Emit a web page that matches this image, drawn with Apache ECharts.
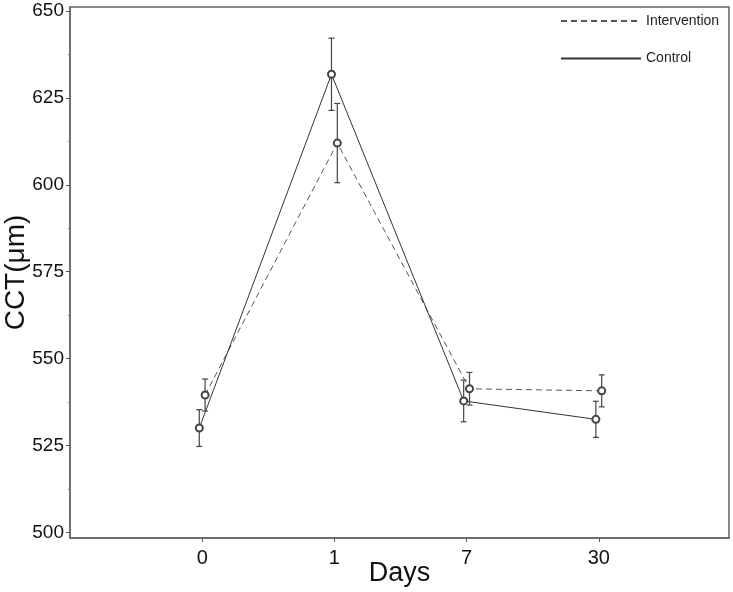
<!DOCTYPE html>
<html>
<head>
<meta charset="utf-8">
<script src="https://cdn.jsdelivr.net/npm/echarts@6/dist/echarts.min.js"></script>
<style>
  html, body { margin: 0; padding: 0; background: #fff; }
  #chart { width: 733px; height: 592px; }
</style>
</head>
<body>
<div id="chart"></div>
<script>
// data
const dayLabels = ['0', '1', '7', '30'];
const controlMean = [530.0, 631.8, 537.8, 532.5];
const controlErr = [5.3, 10.4, 6.0, 5.2];
const interventionMean = [539.5, 612.0, 541.3, 540.7];
const interventionErr = [4.6, 11.4, 4.7, 4.6];
const yTicks = [500, 525, 550, 575, 600, 625, 650];
const yMinorTicks = [512.5, 537.5, 562.5, 587.5, 612.5, 637.5];

// small horizontal dodge so the two groups don't overlap
const controlShift = -0.022;
const interventionShift = 0.022;

const FONT = 'Liberation Sans, Arial, sans-serif';

function points(means, shift) {
  return means.map((v, i) => [i + shift, v]);
}
function bars(means, errs, shift) {
  return means.map((v, i) => [i + shift, v - errs[i], v + errs[i]]);
}

function errorBarSeries(data, color) {
  return {
    type: 'custom',
    data: data,
    silent: true,
    z: 2,
    renderItem: function (params, api) {
      const lo = api.coord([api.value(0), api.value(1)]);
      const hi = api.coord([api.value(0), api.value(2)]);
      const w = 3;
      const style = { stroke: color, lineWidth: 1.2 };
      return {
        type: 'group',
        children: [
          { type: 'line', shape: { x1: lo[0], y1: lo[1], x2: hi[0], y2: hi[1] }, style: style },
          { type: 'line', shape: { x1: lo[0] - w, y1: lo[1], x2: lo[0] + w, y2: lo[1] }, style: style },
          { type: 'line', shape: { x1: hi[0] - w, y1: hi[1], x2: hi[0] + w, y2: hi[1] }, style: style }
        ]
      };
    }
  };
}

const chart = echarts.init(document.getElementById('chart'));

const option = {
  backgroundColor: '#fff',
  animation: false,
  grid: {
    left: 70,
    right: 4,
    top: 7,
    bottom: 54,
    outerBoundsMode: 'none',
    containLabel: false,
    show: true,
    borderColor: '#666',
    borderWidth: 1.5
  },
  legend: {
    orient: 'vertical',
    left: 555,
    top: 9,
    itemWidth: 80,
    itemHeight: 14,
    itemGap: 23.6,
    data: ['Intervention', 'Control'],
    itemStyle: { opacity: 0 },
    textStyle: { fontFamily: FONT, fontSize: 14, color: '#222' },
    selectedMode: false
  },
  xAxis: {
    type: 'value',
    min: -1,
    max: 3.985,
    splitLine: { show: false },
    axisLine: { onZero: false, lineStyle: { color: '#666', width: 1.5 } },
    axisTick: { customValues: [0, 1, 2, 3], length: 4, lineStyle: { color: '#555' } },
    axisLabel: {
      customValues: [0, 1, 2, 3],
      formatter: v => dayLabels[Math.round(v)],
      fontFamily: FONT,
      fontSize: 20,
      color: '#111',
      margin: 10
    },
    name: 'Days',
    nameLocation: 'middle',
    nameGap: 22,
    nameMoveOverlap: false,
    nameTextStyle: { fontFamily: FONT, fontSize: 27, color: '#111' }
  },
  yAxis: [
    {
      type: 'value',
      min: 498.36,
      max: 651.15,
      splitLine: { show: false },
      axisLine: { show: true, onZero: false, lineStyle: { color: '#666', width: 1.5 } },
      axisTick: { customValues: yTicks, length: 4, lineStyle: { color: '#555' } },
      axisLabel: {
        customValues: yTicks,
        fontFamily: FONT,
        fontSize: 19,
        color: '#111',
        margin: 6
      },
      name: 'CCT(μm)',
      nameLocation: 'middle',
      nameGap: 40,
      nameMoveOverlap: false,
      nameTextStyle: { fontFamily: FONT, fontSize: 28, color: '#111' }
    },
    {
      type: 'value',
      position: 'left',
      min: 498.36,
      max: 651.15,
      splitLine: { show: false },
      axisLine: { show: false, onZero: false },
      axisTick: { customValues: yMinorTicks, length: 2, lineStyle: { color: '#777' } },
      axisLabel: { show: false }
    }
  ],
  series: [
    {
      name: 'Intervention',
      type: 'line',
      data: points(interventionMean, interventionShift),
      symbol: 'emptyCircle',
      symbolSize: 7,
      z: 3,
      lineStyle: { color: '#555', width: 1, type: [6, 4] },
      itemStyle: { color: '#444', borderWidth: 0.8 }
    },
    {
      name: 'Control',
      type: 'line',
      data: points(controlMean, controlShift),
      symbol: 'emptyCircle',
      symbolSize: 7,
      z: 3,
      lineStyle: { color: '#333', width: 1 },
      itemStyle: { color: '#444', borderWidth: 0.8 }
    },
    errorBarSeries(bars(interventionMean, interventionErr, interventionShift), '#444'),
    errorBarSeries(bars(controlMean, controlErr, controlShift), '#444')
  ]
};

chart.setOption(option);
</script>
</body>
</html>
